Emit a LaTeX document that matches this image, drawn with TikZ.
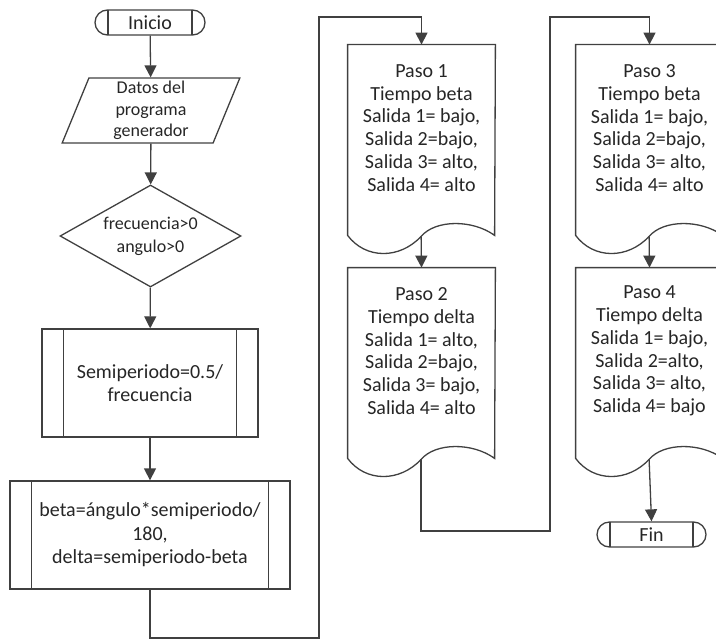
\documentclass[tikz,border=0pt]{standalone}
\usepackage{fontspec}
\setmainfont{Carlito}
\usetikzlibrary{arrows.meta,shapes.geometric,shapes.misc}

\tikzset{
  line/.style={draw=black!75, line width=0.65pt},
  arr/.style={line, -{Triangle[width=6pt,length=6pt]}},
  term/.style={line, rounded rectangle, minimum width=55pt, minimum height=12.5pt,
    inner sep=0pt, font=\fontsize{10}{11.4}\selectfont, text=black!85,
    path picture={
      \draw[line] ([xshift=6.5pt]path picture bounding box.north west) -- ([xshift=6.5pt]path picture bounding box.south west);
      \draw[line] ([xshift=-6.5pt]path picture bounding box.north east) -- ([xshift=-6.5pt]path picture bounding box.south east);
    }},
  io/.style={line, trapezium, trapezium left angle=74.5, trapezium right angle=105.5,
    trapezium stretches=true, minimum width=89pt, minimum height=32.5pt, inner sep=0pt,
    align=center, font=\fontsize{9}{10.75}\selectfont, text=black!85},
  cond/.style={line, diamond, aspect=1.77, minimum width=90.5pt, minimum height=51pt,
    inner sep=0pt, align=center, font=\fontsize{9}{11.5}\selectfont, text=black!85},
  proc/.style={line, rectangle, minimum height=54pt, inner sep=0pt, align=center,
    font=\fontsize{10}{11.2}\selectfont, text=black!85,
    path picture={
      \draw[line] ([xshift=10.75pt]path picture bounding box.north west) -- ([xshift=10.75pt]path picture bounding box.south west);
      \draw[line] ([xshift=-10.75pt]path picture bounding box.north east) -- ([xshift=-10.75pt]path picture bounding box.south east);
    }},
  paso/.style={rectangle, minimum width=73.5pt, minimum height=83pt, inner sep=0pt,
    align=center, font=\fontsize{10}{11.4}\selectfont, text=black!85}
}

\begin{document}
\begin{tikzpicture}[x=0.5pt, y=-0.5pt]
\useasboundingbox (0,0) rectangle (716,642);
\clip (0,0) rectangle (716,642);

% left column
\node[term] (ini) at (150,22.5) {Inicio};
\node[io] (dat) at (151,110.5) {Datos del\\programa\\generador};
\node[cond] (chk) at (150.5,236) {frecuencia>0\\angulo>0};
\node[proc, minimum width=108pt] (semi) at (150,383) {Semiperiodo=0.5/\\frecuencia};
\node[proc, minimum width=140pt, font=\fontsize{10}{11.75}\selectfont] (tiem) at (150,535)
  {beta=ángulo*semiperiodo/\\180,\\delta=semiperiodo-beta};

% the four steps
\node[paso] (p1) at (421.5,128) {Paso 1\\Tiempo beta\\Salida 1= bajo,\\Salida 2=bajo,\\Salida 3= alto,\\Salida 4= alto};
\node[paso] (p2) at (421.5,351) {Paso 2\\Tiempo delta\\Salida 1= alto,\\Salida 2=bajo,\\Salida 3= bajo,\\Salida 4= alto};
\node[paso] (p3) at (649.5,128) {Paso 3\\Tiempo beta\\Salida 1= bajo,\\Salida 2=bajo,\\Salida 3= alto,\\Salida 4= alto};
\node[paso] (p4) at (649.5,351) {Paso 4\\Tiempo delta\\Salida 1= bajo,\\Salida 2=alto,\\Salida 3= alto,\\Salida 4= bajo};
\node[term, minimum width=54.5pt] (fin) at (651.5,534.5) {Fin};

% document outline with wavy bottom
\foreach \n in {p1,p2,p3,p4}{
  \begin{scope}[shift={(\n.south west)}]
    \draw[line] (\n.north west) -- (\n.north east) -- (147,24)
      .. controls (125,8) and (88,8) .. (73.5,25)
      .. controls (52,48) and (18,48) .. (0,24) -- cycle;
    \coordinate (\n-w) at (73.5,25);
  \end{scope}
}

\coordinate (b1) at (319,638);
\coordinate (t1) at (319,17);
\coordinate (b2) at (550,531);
\coordinate (t2) at (550,17);

\draw[arr] (ini) -- (dat);
\draw[arr] (dat) -- (chk);
\draw[arr] (chk) -- (semi);
\draw[arr] (semi) -- (tiem);
\draw[arr] (tiem.south) |- (b1) -- (t1) -| (p1.north);
\draw[arr] (p1-w) -- (p2.north);
\draw[arr] (p2-w) |- (b2) -- (t2) -| (p3.north);
\draw[arr] (p3-w) -- (p4.north);
\draw[arr] (p4-w) -- (fin.north);
\end{tikzpicture}
\end{document}
